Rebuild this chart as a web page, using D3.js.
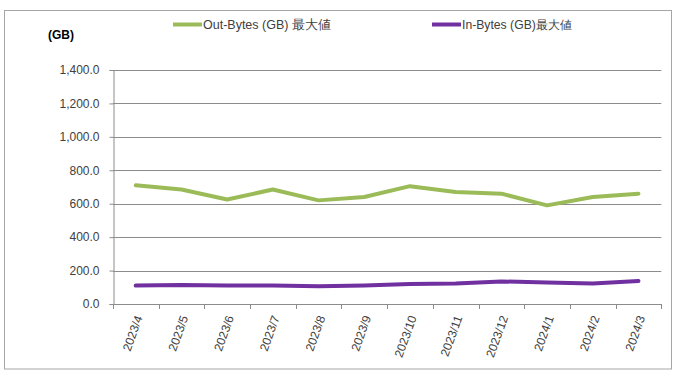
<!DOCTYPE html>
<html><head><meta charset="utf-8">
<script src="https://cdn.jsdelivr.net/npm/d3@7"></script>
<style>body{margin:0;background:#fff}svg{display:block}</style>
</head><body>
<svg id="c" width="680" height="379"></svg>
<script>
const categories = ["2023/4","2023/5","2023/6","2023/7","2023/8","2023/9","2023/10","2023/11","2023/12","2024/1","2024/2","2024/3"];
const outBytes = [710, 685, 625, 685, 620, 640, 705, 670, 660, 590, 640, 660];
const inBytes  = [110, 114, 110, 110, 106, 110, 120, 122, 135, 128, 123, 138];
const yTicks = [0, 200, 400, 600, 800, 1000, 1200, 1400];
const seriesNames = ["Out-Bytes (GB) 最大値", "In-Bytes (GB)最大値"];
const colors = ["#9BBB59", "#7030A0"];

(function(){
const svg = d3.select("#c");
const font = "'Liberation Sans', Arial, sans-serif";
const pL = 112.9, pR = 661.3, pT = 70, pB = 304;

svg.append("rect").attr("x",4.5).attr("y",10.5).attr("width",667).attr("height",358.5)
  .attr("fill","#fff").attr("stroke","#a6a6a6").attr("stroke-width",1);

const x = d3.scaleBand().domain(categories).range([pL, pR]);
const y = d3.scaleLinear().domain([0, 1400]).range([pB, pT]);

// gridlines
svg.append("g").selectAll("line").data(yTicks.filter(d=>d>0)).join("line")
  .attr("x1",pL).attr("x2",pR)
  .attr("y1",d=>Math.round(y(d))+0.5).attr("y2",d=>Math.round(y(d))+0.5)
  .attr("stroke","#8c8c8c").attr("stroke-width",1);

// y axis
const yAxis = d3.axisLeft(y).tickValues(yTicks).tickSize(4).tickPadding(10)
  .tickFormat(d => d3.format(",.1f")(d));
const gy = svg.append("g").attr("transform",`translate(${Math.round(pL)+0.5},0)`).call(yAxis);
gy.select(".domain").attr("stroke","#8c8c8c");
gy.selectAll(".tick line").attr("stroke","#8c8c8c");
gy.selectAll(".tick text").attr("fill","#404040").style("font-family",font).style("font-size","12px");

// x axis
svg.append("line").attr("x1",pL).attr("x2",pR)
  .attr("y1",Math.round(pB)+0.5).attr("y2",Math.round(pB)+0.5)
  .attr("stroke","#8c8c8c");
const bounds = categories.map(c=>x(c)).concat([pR]);
svg.append("g").selectAll("line").data(bounds).join("line")
  .attr("x1",d=>Math.round(d)+0.5).attr("x2",d=>Math.round(d)+0.5)
  .attr("y1",pB).attr("y2",pB+5).attr("stroke","#8c8c8c");
svg.append("g").selectAll("text").data(categories).join("text")
  .attr("transform",d=>`translate(${x(d)+x.bandwidth()/2+3},${pB+12}) rotate(-70)`)
  .attr("text-anchor","end").attr("dy","0.35em")
  .attr("fill","#404040").style("font-family",font).style("font-size","12px")
  .text(d=>d);

// lines
const line = d3.line().x((d,i)=>x(categories[i])+x.bandwidth()/2).y(d=>y(d));
[outBytes, inBytes].forEach((s,k)=>{
  svg.append("path").datum(s).attr("d",line).attr("fill","none")
    .attr("stroke",colors[k]).attr("stroke-width",4)
    .attr("stroke-linejoin","round").attr("stroke-linecap","round");
});

// unit label
svg.append("text").attr("x",61).attr("y",35).attr("dy","0.35em").attr("text-anchor","middle")
  .attr("fill","#000").style("font-family",font).style("font-size","12px").style("font-weight","bold")
  .text("(GB)");

// legend
const legX = [173, 432];
const legSize = ["12.5px", "12.2px"];
seriesNames.forEach((n,k)=>{
  svg.append("line").attr("x1",legX[k]).attr("x2",legX[k]+29).attr("y1",24.5).attr("y2",24.5)
    .attr("stroke",colors[k]).attr("stroke-width",4);
  svg.append("text").attr("x",legX[k]+30).attr("y",24.5).attr("dy","0.35em")
    .attr("fill","#404040").style("font-family",font).style("font-size",legSize[k])
    .text(n);
});
})();
</script>
</body></html>
